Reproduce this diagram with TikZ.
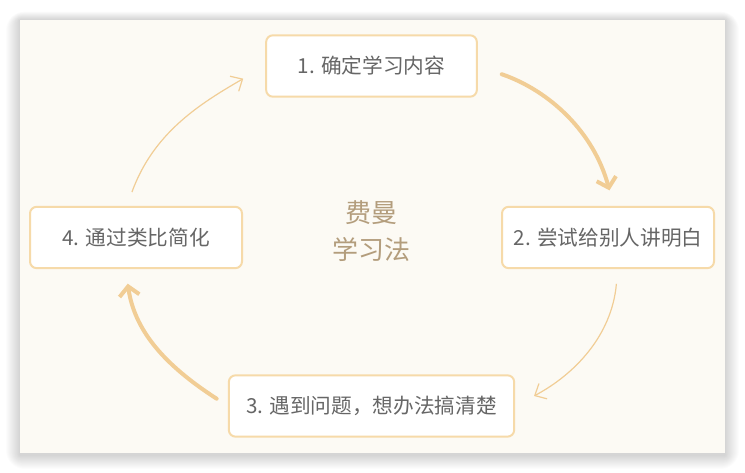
\documentclass[tikz,border=0pt]{standalone}
\usepackage{fontspec}
\setmainfont{Noto Sans CJK SC}
\usepackage{tikz}
\usetikzlibrary{arrows.meta}
\usepackage{xcolor}
\definecolor{cardbg}{HTML}{FCFAF4}
\definecolor{boxline}{HTML}{F6DAA9}
\definecolor{arrowcol}{HTML}{F1CD95}
\definecolor{textgray}{HTML}{666666}
\definecolor{titlebrown}{HTML}{B39D7C}

\begin{document}
\begin{tikzpicture}[x=0.75pt,y=0.75pt,
  stepbox/.style={draw=boxline, line width=1.5pt, fill=white, rounded corners=5pt,
    minimum height=46pt, inner sep=0pt, text=textgray, font=\fontsize{15.5}{18}\selectfont},
  bigarrow/.style={draw=arrowcol, line width=3pt, line cap=round,
    -{Straight Barb[length=7pt,width=15pt]}},
  thinarrow/.style={draw=arrowcol, line width=0.9pt,
    -{Straight Barb[length=7pt,width=13pt]}}]
% Fundo e cartão com sombra suave
\fill[white] (0,0) rectangle (745,473);
\useasboundingbox (0,0) rectangle (745,473);
\foreach \i in {1,...,14} {
  \fill[black, opacity=0.011, rounded corners=\i pt]
    (20-\i,18-\i) rectangle (725+\i,453+\i*0.6);
}
\fill[cardbg] (20,20) rectangle (725,453);

% Etapas
\node[stepbox, minimum width=158pt] (b1) at (371.5,407) {1. 确定学习内容};
\node[stepbox, minimum width=159pt] (b2) at (608,235.5) {2. 尝试给别人讲明白};
\node[stepbox, minimum width=214pt] (b3) at (371.5,67) {3. 遇到问题，想办法搞清楚};
\node[stepbox, minimum width=159pt] (b4) at (136,235.5) {4. 通过类比简化};

% Título no centro
\node[align=center, text=titlebrown, font=\fontsize{19.5}{27.75}\selectfont]
  (title) at (371,242) {费曼\\学习法};

% Setas do ciclo
\draw[bigarrow, shorten <=19pt, shorten >=12pt] (b1.east) to[out=-19,in=105] (b2.80);
\draw[thinarrow, shorten <=11pt, shorten >=16pt] (b2.-73) to[out=-95,in=28] (b3.east);
\draw[bigarrow, shorten <=10pt, shorten >=11pt] (b3.west) to[out=147,in=-82] (b4.-108);
\draw[thinarrow, shorten <=11pt, shorten >=19pt] (b4.106) to[out=70,in=-150] (b1.west);
\end{tikzpicture}
\end{document}
